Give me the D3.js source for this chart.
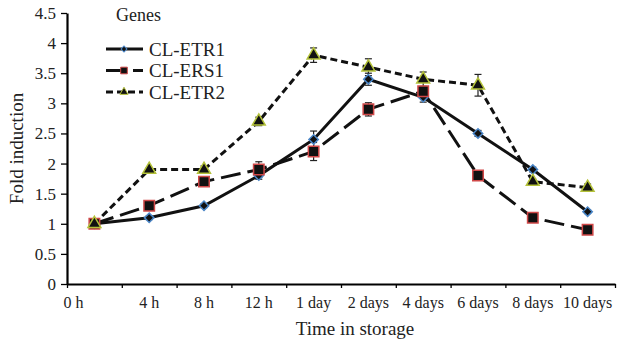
<!DOCTYPE html>
<html>
<head>
<meta charset="utf-8">
<script src="https://cdn.jsdelivr.net/npm/d3@7"></script>
<style>
  body { margin: 0; background: #fff; }
  text { font-family: "Liberation Serif", "Times New Roman", serif; fill: #222; }
</style>
</head>
<body>
<div id="chart"></div>
<script>
// time points on the x axis
const categories = ["0 h", "4 h", "8 h", "12 h", "1 day", "2 days", "4 days", "6 days", "8 days", "10 days"];

// fold induction per gene, with error bars
const etr1 = [1, 1.1, 1.3, 1.8, 2.4, 3.4, 3.1, 2.5, 1.9, 1.2];
const etr1Err = [0.02, 0.03, 0.03, 0.06, 0.14, 0.1, 0.08, 0.05, 0.04, 0.03];
const ers1 = [1, 1.3, 1.7, 1.9, 2.2, 2.9, 3.2, 1.8, 1.1, 0.9];
const ers1Err = [0.02, 0.03, 0.04, 0.13, 0.15, 0.11, 0.08, 0.04, 0.05, 0.03];
const etr2 = [1, 1.9, 1.9, 2.7, 3.8, 3.6, 3.4, 3.3, 1.7, 1.6];
const etr2Err = [0.02, 0.03, 0.06, 0.07, 0.12, 0.14, 0.12, 0.18, 0.04, 0.06];

const yTicks = [0, 0.5, 1, 1.5, 2, 2.5, 3, 3.5, 4, 4.5];

const series = [
    {name: "CL-ETR1", values: etr1, err: etr1Err, dash: null, symbol: "diamond", edge: "#4a86c8"},
    {name: "CL-ERS1", values: ers1, err: ers1Err, dash: "20,7", symbol: "square", edge: "#d04848"},
    {name: "CL-ETR2", values: etr2, err: etr2Err, dash: "7,4", symbol: "triangle", edge: "#b4c23a"}
];

const margin = {top: 13, right: 17, bottom: 58, left: 67};
const width = 632 - margin.left - margin.right;
const height = 342 - margin.top - margin.bottom;

const svg = d3.select("#chart")
    .append("svg")
        .attr("width", width + margin.left + margin.right)
        .attr("height", height + margin.top + margin.bottom)
    .append("g")
        .attr("transform", "translate(" + margin.left + "," + margin.top + ")");

const xScale = d3.scaleBand()
    .domain(categories)
    .range([0, width]);

const xTickScale = d3.scaleLinear()
    .domain([0, categories.length])
    .range([0, width]);

const yScale = d3.scaleLinear()
    .domain([0, 4.5])
    .range([height, 0]);

// marker shape for a series, big ones on the plot, small ones in the legend
function markerPath(type, small){
    const k = small ? 0.4 : 1;
    if (type === "diamond") return d3.symbol().type(d3.symbolSquare).size(44 * k)();
    if (type === "square") return d3.symbol().type(d3.symbolSquare).size(110 * k)();
    return d3.symbol().type(d3.symbolTriangle).size(72 * k)();
}

// x axis: ticks at band edges, labels at band centres
const xTicks = svg.append("g")
    .attr("transform", "translate(0," + height + ")")
    .call(d3.axisBottom(xTickScale).tickValues(d3.range(0, categories.length + 1)).tickFormat("").tickSize(4).tickSizeOuter(0));
xTicks.select(".domain").attr("stroke-width", 2.2);
xTicks.selectAll(".tick line").attr("stroke-width", 1.3);

const xLabels = svg.append("g")
    .attr("transform", "translate(0," + height + ")")
    .call(d3.axisBottom(xScale).tickSize(0).tickPadding(13));
xLabels.select(".domain").remove();
xLabels.selectAll("text").attr("font-size", "16px").attr("font-family", "Liberation Serif").attr("fill", "#222");
xLabels.selectAll(".tick text").filter((d, i) => i === 0).attr("dx", -21);

const yAxis = svg.append("g")
    .call(d3.axisLeft(yScale).tickValues(yTicks).tickFormat(d => String(d)).tickSize(6).tickPadding(5).tickSizeOuter(0));
yAxis.select(".domain").attr("stroke-width", 2.2);
yAxis.selectAll(".tick line").attr("stroke-width", 1.3);
yAxis.selectAll("text").attr("font-size", "17px").attr("font-family", "Liberation Serif").attr("fill", "#222");

const line = d3.line()
    .x((d, i) => xScale(categories[i]) + xScale.bandwidth() / 2)
    .y(d => yScale(d));

// lines
series.forEach(s => {
    svg.append("path")
        .datum(s.values)
        .attr("fill", "none")
        .attr("stroke", "#111")
        .attr("stroke-width", 3)
        .attr("stroke-dasharray", s.dash)
        .attr("d", line);
});

// error bars
series.forEach(s => {
    const g = svg.append("g").attr("stroke", "#222").attr("stroke-width", 1.2);
    s.values.forEach((v, i) => {
        const cx = xScale(categories[i]) + xScale.bandwidth() / 2;
        g.append("line").attr("x1", cx).attr("x2", cx)
            .attr("y1", yScale(v - s.err[i])).attr("y2", yScale(v + s.err[i]));
        [v - s.err[i], v + s.err[i]].forEach(e => {
            g.append("line").attr("x1", cx - 3.5).attr("x2", cx + 3.5)
                .attr("y1", yScale(e)).attr("y2", yScale(e));
        });
    });
});

// markers
series.forEach(s => {
    svg.append("g").selectAll("path")
        .data(s.values)
        .enter()
        .append("path")
            .attr("d", markerPath(s.symbol, false))
            .attr("transform", (d, i) => "translate(" + (xScale(categories[i]) + xScale.bandwidth() / 2) + "," + yScale(d) + ")" + (s.symbol === "diamond" ? " rotate(45)" : ""))
            .attr("fill", "#111")
            .attr("stroke", s.edge)
            .attr("stroke-width", 1.5);
});

// legend
const legend = svg.append("g").attr("transform", "translate(39,0)");
legend.append("text")
    .attr("x", 10)
    .attr("y", 8)
    .attr("font-size", "18px")
    .text("Genes");

series.forEach((s, i) => {
    const ly = 36 + i * 21.5;
    legend.append("line")
        .attr("x1", 0).attr("x2", 37)
        .attr("y1", ly).attr("y2", ly)
        .attr("stroke", "#111")
        .attr("stroke-width", 3)
        .attr("stroke-dasharray", s.dash);
    legend.append("path")
        .attr("d", markerPath(s.symbol, true))
        .attr("transform", "translate(18," + ly + ")" + (s.symbol === "diamond" ? " rotate(45)" : ""))
        .attr("fill", "#111")
        .attr("stroke", s.edge)
        .attr("stroke-width", 1);
    legend.append("text")
        .attr("x", 43)
        .attr("y", ly)
        .attr("dy", "0.35em")
        .attr("font-size", "19px")
        .text(s.name);
});

// axis titles
svg.append("text")
    .attr("x", width / 2 + 14)
    .attr("y", height + 51)
    .attr("text-anchor", "middle")
    .attr("font-size", "19px")
    .text("Time in storage");

svg.append("text")
    .attr("transform", "rotate(-90)")
    .attr("x", -height / 2)
    .attr("y", -44)
    .attr("text-anchor", "middle")
    .attr("font-size", "19px")
    .text("Fold induction");
</script>
</body>
</html>
